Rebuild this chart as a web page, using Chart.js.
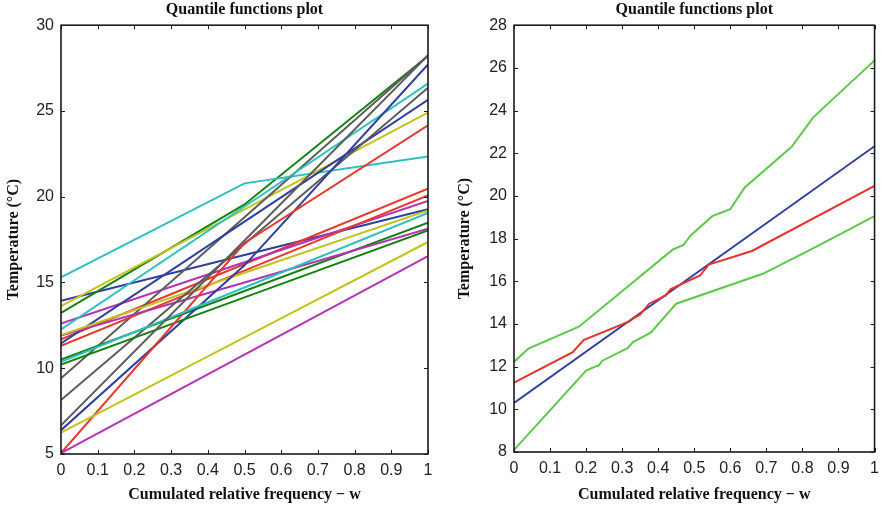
<html>
<head>
<meta charset="UTF-8">
<title>Quantile functions plot</title>
<script src="https://cdn.jsdelivr.net/npm/chart.js@4.4.1/dist/chart.umd.min.js"></script>
<style>
body { margin: 0; background: #fff; }
.panel { position: absolute; top: 0; width: 443px; height: 508px; }
</style>
</head>
<body>
<div class="panel" style="left:0;"><canvas id="leftChart" width="443" height="508"></canvas></div>
<div class="panel" style="left:443px;"><canvas id="rightChart" width="443" height="508"></canvas></div>
<script>
// ---- data ----
var xTicks = [0, 0.1, 0.2, 0.3, 0.4, 0.5, 0.6, 0.7, 0.8, 0.9, 1];
var leftYTicks = [5, 10, 15, 20, 25, 30];
var rightYTicks = [8, 10, 12, 14, 16, 18, 20, 22, 24, 26, 28];

// left panel: quantile functions of each station, known at w = 0, 0.5, 1
var leftW = [0, 0.5, 1];
var leftSeries = [
  [13.93, 16.60, 19.27],
  [13.23, 19.55, 28.20],
  [11.68, 16.08, 20.47],
  [15.30, 20.78, 22.35],
  [12.61, 16.18, 19.75],
  [13.62, 19.26, 24.90],
  [9.41, 18.80, 28.24],
  [11.44, 18.55, 25.65],
  [10.51, 14.50, 18.49],
  [11.30, 15.69, 20.08],
  [12.26, 19.43, 26.60],
  [11.90, 15.00, 18.14],
  [11.93, 15.57, 19.20],
  [8.15, 17.25, 26.35],
  [6.39, 16.00, 27.71],
  [10.22, 14.13, 18.04],
  [5.05, 17.30, 24.16],
  [10.37, 14.71, 19.05],
  [5.05, 10.79, 16.53],
  [6.24, 11.80, 17.36],
  [6.67, 17.45, 28.24]
];
var leftColors = ['#2f3f9f', '#128212', '#e8372c', '#2ebfbf', '#b532b5', '#c3c31c', '#5c5c5c'];

// right panel: mean / median quantile function and envelope
var blueW = [0, 1];
var blueT = [10.30, 22.33];
var redW = [0, 0.163, 0.193, 0.32, 0.335, 0.35, 0.375, 0.42, 0.435, 0.516, 0.54, 0.66, 1];
var redT = [11.25, 12.68, 13.25, 14.12, 14.30, 14.45, 14.95, 15.33, 15.63, 16.27, 16.78, 17.42, 20.47];
var upperW = [0, 0.04, 0.18, 0.44, 0.47, 0.49, 0.55, 0.6, 0.64, 0.77, 0.83, 1];
var upperT = [12.22, 12.85, 13.87, 17.48, 17.70, 18.15, 19.05, 19.38, 20.40, 22.30, 23.68, 26.35];
var lowerW = [0, 0.2, 0.225, 0.235, 0.245, 0.315, 0.33, 0.38, 0.45, 0.69, 0.82, 1];
var lowerT = [8.10, 11.82, 12.00, 12.05, 12.28, 12.87, 13.15, 13.60, 14.95, 16.35, 17.46, 19.05];

function pts(ws, ts) {
  return ws.map(function (w, i) { return { x: w, y: ts[i] }; });
}

// frame round the plot area with small inward ticks on all four sides
var boxTicks = {
  id: 'boxTicks',
  afterDatasetsDraw: function (chart) {
    var ctx = chart.ctx, a = chart.chartArea, x = chart.scales.x, y = chart.scales.y;
    ctx.save();
    ctx.strokeStyle = '#1a1a1a';
    ctx.lineWidth = 1;
    ctx.beginPath();
    x.ticks.forEach(function (t) {
      var px = Math.round(x.getPixelForValue(t.value)) + 0.5;
      ctx.moveTo(px, a.bottom); ctx.lineTo(px, a.bottom - 4);
      ctx.moveTo(px, a.top); ctx.lineTo(px, a.top + 4);
    });
    y.ticks.forEach(function (t) {
      var py = Math.round(y.getPixelForValue(t.value)) + 0.5;
      ctx.moveTo(a.left, py); ctx.lineTo(a.left + 4, py);
      ctx.moveTo(a.right, py); ctx.lineTo(a.right - 4, py);
    });
    ctx.stroke();
    ctx.lineWidth = 1.6;
    ctx.strokeRect(a.left, a.top, a.right - a.left, a.bottom - a.top);
    ctx.restore();
  }
};

function makeOptions(yTicks, yWidth, xHeight, yTitlePad, rightPad) {
  return {
    responsive: false,
    animation: false,
    events: [],
    layout: { padding: { left: 0, right: rightPad, top: 0, bottom: 0 } },
    plugins: {
      legend: { display: false },
      tooltip: { enabled: false },
      title: {
        display: true,
        fullSize: false,
        text: 'Quantile functions plot',
        color: '#111',
        font: { family: 'Liberation Serif', size: 16, weight: 'bold' },
        padding: { top: 0, bottom: 6 }
      }
    },
    scales: {
      x: {
        type: 'linear',
        min: 0, max: 1,
        grid: { display: false, drawTicks: false },
        border: { display: false },
        afterBuildTicks: function (s) { s.ticks = xTicks.map(function (v) { return { value: v }; }); },
        afterFit: function (s) { s.height = xHeight; },
        ticks: {
          padding: 7,
          color: '#222',
          maxRotation: 0,
          font: { family: 'Liberation Sans', size: 16 },
          callback: function (v) { return String(+v.toFixed(1)); }
        },
        title: {
          display: true,
          text: 'Cumulated relative frequency \u2212 w',
          color: '#111',
          font: { family: 'Liberation Serif', size: 16, weight: 'bold' },
          padding: { top: 0, bottom: 4 }
        }
      },
      y: {
        type: 'linear',
        min: yTicks[0], max: yTicks[yTicks.length - 1],
        grid: { display: false, drawTicks: false },
        border: { display: false },
        afterBuildTicks: function (s) { s.ticks = yTicks.map(function (v) { return { value: v }; }); },
        afterFit: function (s) { s.width = yWidth; },
        ticks: {
          padding: 7,
          color: '#222',
          font: { family: 'Liberation Sans', size: 16 }
        },
        title: {
          display: true,
          text: 'Temperature (\u00B0C)',
          color: '#111',
          font: { family: 'Liberation Serif', size: 16, weight: 'bold' },
          padding: { top: yTitlePad, bottom: 0 }
        }
      }
    }
  };
}

var leftDatasets = leftSeries.map(function (s, i) {
  return {
    data: pts(leftW, s),
    borderColor: leftColors[i % leftColors.length],
    borderWidth: 2,
    pointRadius: 0,
    tension: 0,
    order: -i
  };
});

new Chart(document.getElementById('leftChart'), {
  type: 'line',
  data: { datasets: leftDatasets },
  options: makeOptions(leftYTicks, 61, 54, 4, 15),
  plugins: [boxTicks]
});

var green = '#5cc94a';
new Chart(document.getElementById('rightChart'), {
  type: 'line',
  data: {
    datasets: [
      { data: pts(upperW, upperT), borderColor: green, borderWidth: 2, pointRadius: 0, tension: 0 },
      { data: pts(lowerW, lowerT), borderColor: green, borderWidth: 2, pointRadius: 0, tension: 0 },
      { data: pts(redW, redT), borderColor: '#e8312a', borderWidth: 2, pointRadius: 0, tension: 0 },
      { data: pts(blueW, blueT), borderColor: '#2f3f9f', borderWidth: 2, pointRadius: 0, tension: 0 }
    ]
  },
  options: makeOptions(rightYTicks, 71, 56, 12, 5),
  plugins: [boxTicks]
});
</script>
</body>
</html>
